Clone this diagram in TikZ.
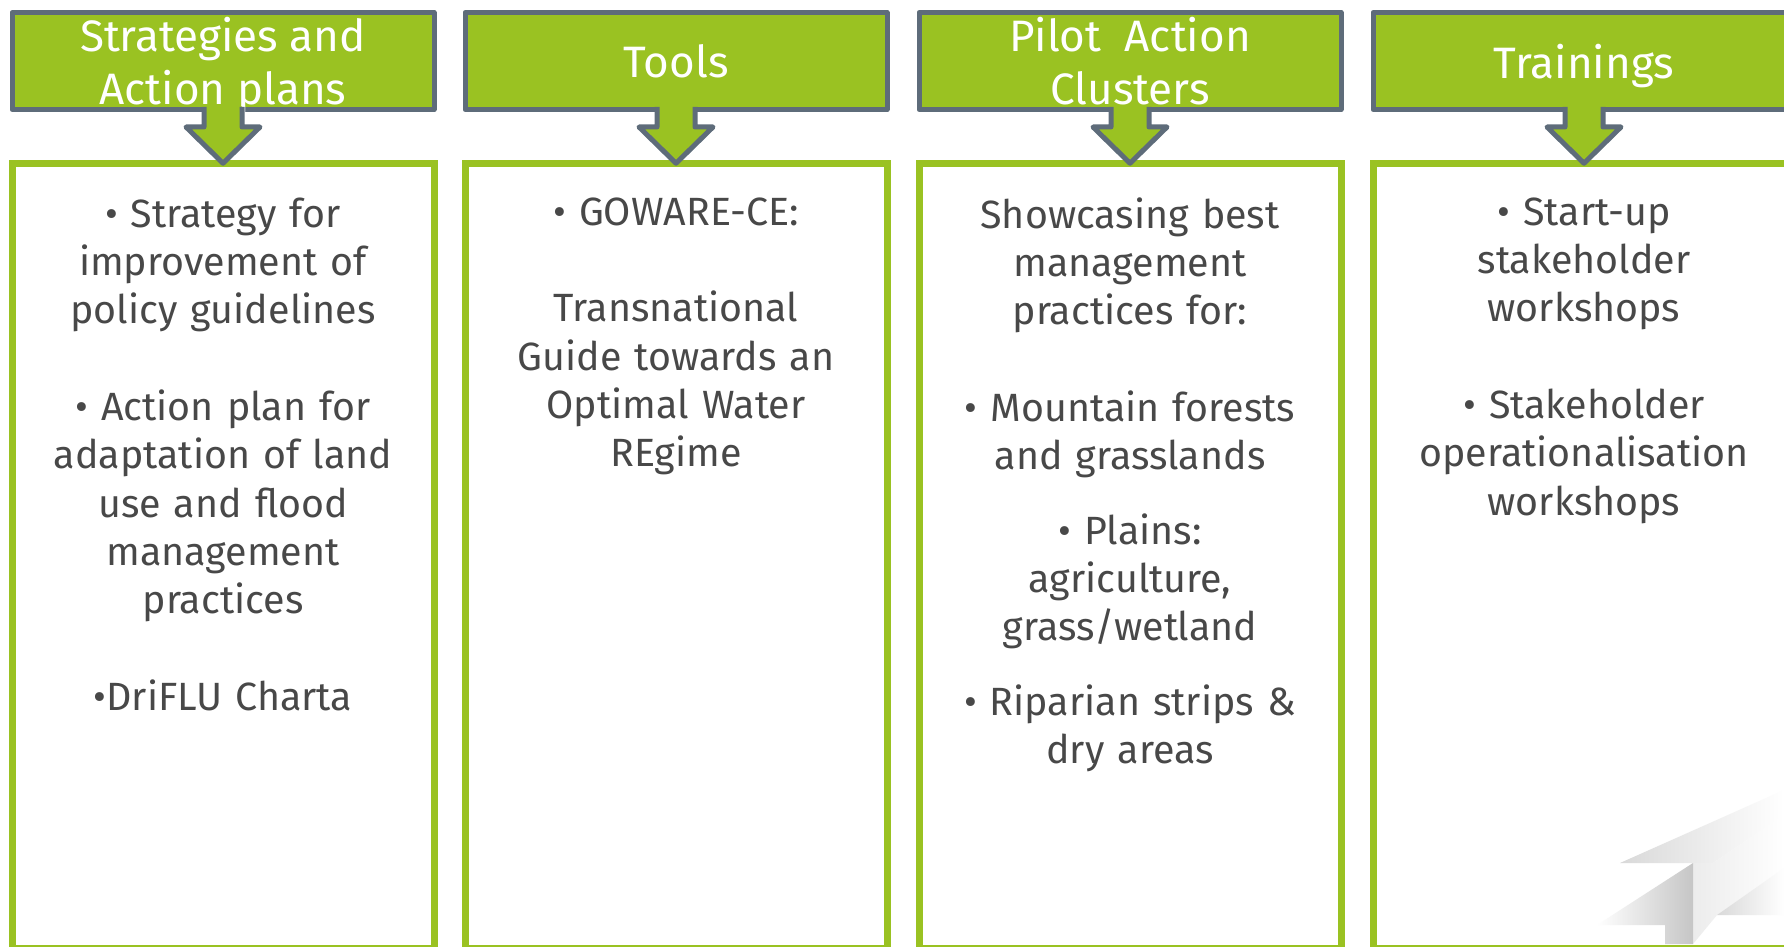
\documentclass[tikz,border=0pt]{standalone}
\usepackage{fontspec}
\setmainfont{Fira Sans}
\usetikzlibrary{positioning, calc}
\definecolor{leafgreen}{RGB}{154, 194, 34}
\definecolor{slategray}{RGB}{94, 108, 122}
\definecolor{bodygray}{RGB}{72, 72, 72}
\tikzset{
  headbox/.style={draw=slategray, fill=leafgreen, line width=2.5pt, line join=round, minimum width=211pt, minimum height=48.5pt,
    inner sep=0pt, outer sep=0pt, text=white, align=center, text depth=0pt, font=\fontsize{22pt}{26.5pt}\selectfont},
  listbox/.style={draw=leafgreen, fill=white, line width=3.5pt, minimum width=211pt, minimum height=392.75pt,
    inner sep=0pt, outer sep=0pt},
  listtext/.style={text=bodygray, text width=205pt, align=center, inner sep=0pt,
    font=\fontsize{19.7pt}{24.15pt}\selectfont},
  arrowfill/.style={fill=leafgreen},
  arrowline/.style={draw=slategray, line width=2.5pt, line join=round}
}

\begin{document}
\begin{tikzpicture}[x=0.5pt, y=-0.5pt]
  \useasboundingbox (0,0) rectangle (1784,947);
  \clip (0,0) rectangle (1784,947);

  % Strategies section
  \node[listbox] (stratbox) at (223,556) {};
  \node[headbox] (strat) at (223,61) {Strategies and\\Action plans};
  \fill[arrowfill] ([xshift=-9.5pt,yshift=1.5pt]strat.south) -- ([xshift=-9.5pt,yshift=-8.75pt]strat.south)
    -- ([xshift=-18.5pt,yshift=-8.75pt]strat.south) -- (stratbox.north) -- ([xshift=18.5pt,yshift=-8.75pt]strat.south)
    -- ([xshift=9.5pt,yshift=-8.75pt]strat.south) -- ([xshift=9.5pt,yshift=1.5pt]strat.south) -- cycle;
  \draw[arrowline] ([xshift=-9.5pt,yshift=1.25pt]strat.south) -- ([xshift=-9.5pt,yshift=-8.75pt]strat.south)
    -- ([xshift=-18.5pt,yshift=-8.75pt]strat.south) -- (stratbox.north) -- ([xshift=18.5pt,yshift=-8.75pt]strat.south)
    -- ([xshift=9.5pt,yshift=-8.75pt]strat.south) -- ([xshift=9.5pt,yshift=1.25pt]strat.south);
  \node[listtext, below=17pt of stratbox.north] (strattext) {
    • Strategy for\\improvement of\\policy guidelines\\[24.15pt]
    • Action plan for\\adaptation of land\\use and flood\\management\\practices\\[24.15pt]
    •DriFLU Charta
  };

  % Tools section
  \node[listbox] (toolsbox) at (676,556) {};
  \node[headbox] (tools) at (676,61) {Tools};
  \fill[arrowfill] ([xshift=-9.5pt,yshift=1.5pt]tools.south) -- ([xshift=-9.5pt,yshift=-8.75pt]tools.south)
    -- ([xshift=-18.5pt,yshift=-8.75pt]tools.south) -- (toolsbox.north) -- ([xshift=18.5pt,yshift=-8.75pt]tools.south)
    -- ([xshift=9.5pt,yshift=-8.75pt]tools.south) -- ([xshift=9.5pt,yshift=1.5pt]tools.south) -- cycle;
  \draw[arrowline] ([xshift=-9.5pt,yshift=1.25pt]tools.south) -- ([xshift=-9.5pt,yshift=-8.75pt]tools.south)
    -- ([xshift=-18.5pt,yshift=-8.75pt]tools.south) -- (toolsbox.north) -- ([xshift=18.5pt,yshift=-8.75pt]tools.south)
    -- ([xshift=9.5pt,yshift=-8.75pt]tools.south) -- ([xshift=9.5pt,yshift=1.25pt]tools.south);
  \node[listtext, below=17pt of toolsbox.north] (toolstext) {
    • GOWARE-CE:\\[24.15pt]
    Transnational\\Guide towards an\\Optimal Water\\REgime
  };

  % Pilot action clusters section
  \node[listbox] (pilotbox) at (1130,556) {};
  \node[headbox] (pilot) at (1130,61) {Pilot~ Action\\Clusters};
  \fill[arrowfill] ([xshift=-9.5pt,yshift=1.5pt]pilot.south) -- ([xshift=-9.5pt,yshift=-8.75pt]pilot.south)
    -- ([xshift=-18.5pt,yshift=-8.75pt]pilot.south) -- (pilotbox.north) -- ([xshift=18.5pt,yshift=-8.75pt]pilot.south)
    -- ([xshift=9.5pt,yshift=-8.75pt]pilot.south) -- ([xshift=9.5pt,yshift=1.5pt]pilot.south) -- cycle;
  \draw[arrowline] ([xshift=-9.5pt,yshift=1.25pt]pilot.south) -- ([xshift=-9.5pt,yshift=-8.75pt]pilot.south)
    -- ([xshift=-18.5pt,yshift=-8.75pt]pilot.south) -- (pilotbox.north) -- ([xshift=18.5pt,yshift=-8.75pt]pilot.south)
    -- ([xshift=9.5pt,yshift=-8.75pt]pilot.south) -- ([xshift=9.5pt,yshift=1.25pt]pilot.south);
  \node[listtext, below=17pt of pilotbox.north] (pilottext) {
    Showcasing best\\management\\practices for:\\[24.15pt]
    • Mountain forests\\and grasslands\\[13pt]
    • Plains:\\agriculture,\\grass/wetland\\[13pt]
    • Riparian strips \&\\dry areas
  };

  % Trainings section
  \node[listbox] (trainbox) at (1584,556) {};
  \node[headbox] (train) at (1584,61) {Trainings};
  \fill[arrowfill] ([xshift=-9.5pt,yshift=1.5pt]train.south) -- ([xshift=-9.5pt,yshift=-8.75pt]train.south)
    -- ([xshift=-18.5pt,yshift=-8.75pt]train.south) -- (trainbox.north) -- ([xshift=18.5pt,yshift=-8.75pt]train.south)
    -- ([xshift=9.5pt,yshift=-8.75pt]train.south) -- ([xshift=9.5pt,yshift=1.5pt]train.south) -- cycle;
  \draw[arrowline] ([xshift=-9.5pt,yshift=1.25pt]train.south) -- ([xshift=-9.5pt,yshift=-8.75pt]train.south)
    -- ([xshift=-18.5pt,yshift=-8.75pt]train.south) -- (trainbox.north) -- ([xshift=18.5pt,yshift=-8.75pt]train.south)
    -- ([xshift=9.5pt,yshift=-8.75pt]train.south) -- ([xshift=9.5pt,yshift=1.25pt]train.south);
  \node[listtext, below=17pt of trainbox.north] (traintext) {
    • Start-up\\stakeholder\\workshops\\[24.15pt]
    • Stakeholder\\operationalisation\\workshops
  };

  % faint logo, bottom right
  \shade[left color=gray!30, right color=white] (1620,863) -- (1713,863) -- (1784,815) -- (1784,790) -- cycle;
  \shade[left color=gray!15, right color=white] (1693,863) -- (1713,863) -- (1784,815) -- (1784,868) -- (1717,915) -- (1693,944) -- cycle;
  \shade[left color=white, right color=gray!45] (1597,925) -- (1693,863) -- (1693,944) -- (1665,944) -- (1665,925) -- cycle;
  \shade[left color=gray!30, right color=white] (1717,915) -- (1784,868) -- (1784,915) -- cycle;
\end{tikzpicture}
\end{document}
